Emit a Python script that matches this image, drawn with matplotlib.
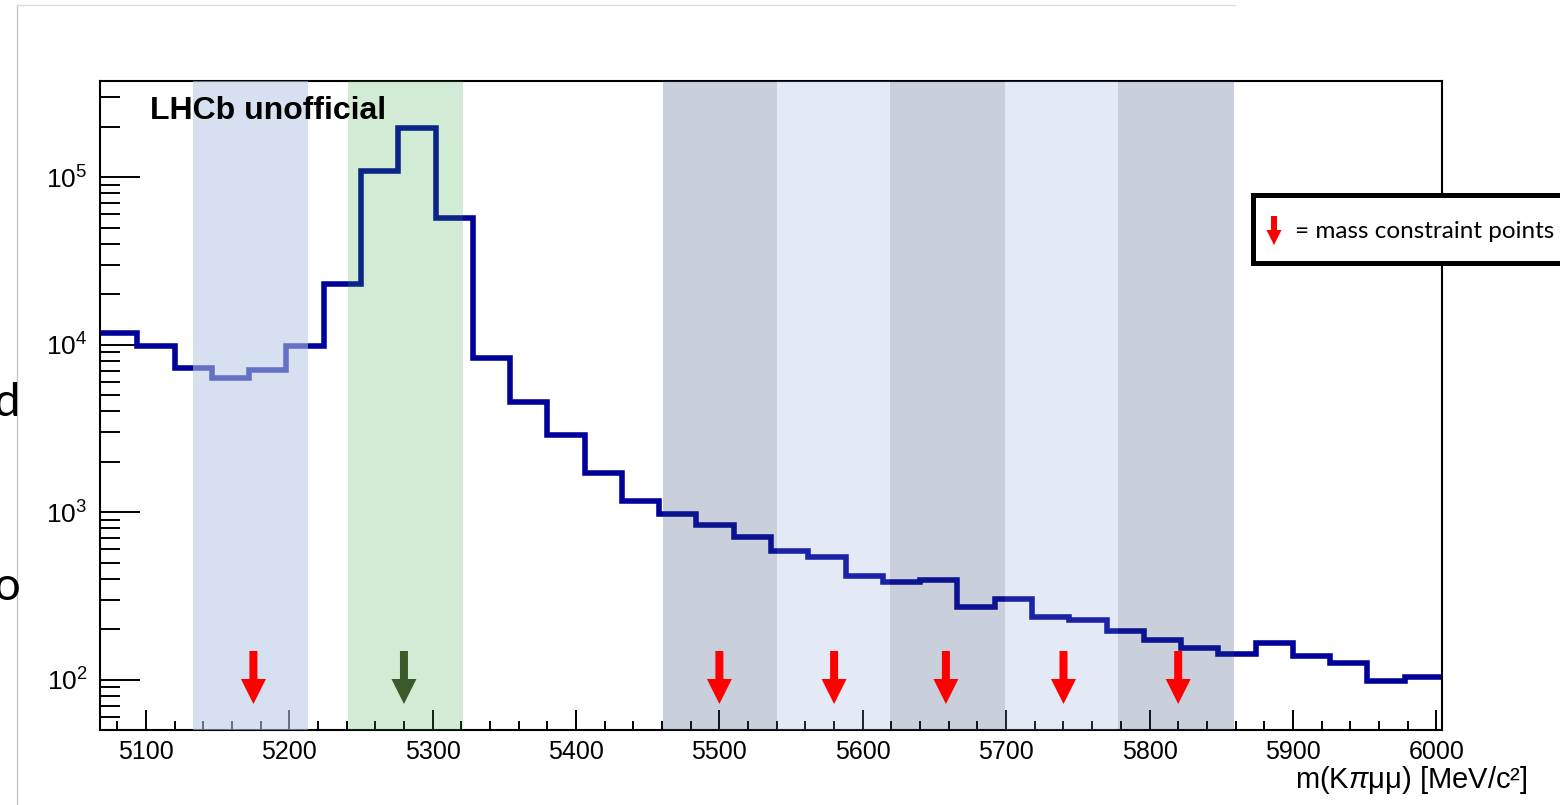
import numpy as np
import matplotlib
matplotlib.use("Agg")
import matplotlib.pyplot as plt
from matplotlib.patches import Polygon, Rectangle
from matplotlib.lines import Line2D
from matplotlib.ticker import LogLocator, MultipleLocator, NullFormatter, LogFormatterSciNotation
from matplotlib import transforms

plt.rcParams['font.family'] = ['Liberation Sans', 'DejaVu Sans']
plt.rcParams['mathtext.fontset'] = 'custom'
plt.rcParams['mathtext.rm'] = 'Liberation Sans'
plt.rcParams['mathtext.it'] = 'Liberation Sans:italic'

# histogram: 36 bins of 26 MeV
bin_edges = np.arange(5068, 6005, 26)
counts = [11800, 9820, 7260, 6330, 7100, 9820, 23000, 109000, 197000, 56800,
          8320, 4540, 2870, 1710, 1160, 978, 832, 708, 584, 538,
          414, 382, 391, 270, 303, 236, 228, 194, 173, 155,
          142, 166, 139, 126, 98.6, 103]

# shaded windows (low, high, kind)
bands = [(5133, 5213, 'side'), (5241, 5321, 'signal'),
         (5461, 5540, 'dark'), (5540, 5619, 'light'), (5619, 5699, 'dark'),
         (5699, 5778, 'light'), (5778, 5859, 'dark')]
band_style = {'side': ('#b6c8e6', 0.56),
              'signal': ('#32a844', 0.22),
              'dark': ('#2f4a78', 0.26),
              'light': ('#849fd6', 0.22)}

red_points = [5175, 5500, 5580, 5658, 5740, 5820]
green_points = [5280]

W, H = 1560, 805


def arrow(tip_y, half_shaft, half_head, head_len, length, trans, color):
    # coordinates in pixels relative to the tip, converted to inches
    pts = np.array([(0, 0), (half_head, head_len), (half_shaft, head_len),
                    (half_shaft, length), (-half_shaft, length),
                    (-half_shaft, head_len), (-half_head, head_len)], float)
    pts[:, 1] += tip_y
    pts /= 100.0
    return Polygon(pts, closed=True, facecolor=color, edgecolor='none',
                   transform=trans, zorder=6, clip_on=False)


def main():
    fig = plt.figure(figsize=(W / 100, H / 100), dpi=100)
    ax = fig.add_axes([100 / W, 1 - 730 / H, 1342 / W, 649 / H])

    ax.stairs(counts, bin_edges, baseline=None, color='#00009a', linewidth=4.0, zorder=2)

    for lo, hi, kind in bands:
        c, a = band_style[kind]
        ax.axvspan(lo, hi, color=c, alpha=a, lw=0, zorder=4)

    ax.set_yscale('log')
    ax.set_xlim(5068, 6004)
    ax.set_ylim(50, 3.75e5)

    ax.xaxis.set_major_locator(MultipleLocator(100))
    ax.xaxis.set_minor_locator(MultipleLocator(20))
    ax.yaxis.set_major_locator(LogLocator(base=10, numticks=10))
    ax.yaxis.set_minor_locator(LogLocator(base=10, subs=np.arange(2, 10), numticks=20))
    ax.yaxis.set_major_formatter(LogFormatterSciNotation())
    ax.yaxis.set_minor_formatter(NullFormatter())

    ax.tick_params(axis='x', which='major', direction='in', length=14.4, width=1.4,
                   labelsize=18, pad=7)
    ax.tick_params(axis='x', which='minor', direction='in', length=6.5, width=1.4)
    ax.tick_params(axis='y', which='major', direction='in', length=28.8, width=1.4,
                   labelsize=19, pad=9)
    ax.tick_params(axis='y', which='minor', direction='in', length=14.4, width=1.4)
    for s in ax.spines.values():
        s.set_linewidth(1.5)

    # constraint arrows
    xa = ax.get_xaxis_transform()
    for x in red_points:
        t = fig.dpi_scale_trans + transforms.ScaledTranslation(x, 0, xa)
        ax.add_patch(arrow(26, 4, 12.5, 25, 53, t, '#ff0000'))
    for x in green_points:
        t = fig.dpi_scale_trans + transforms.ScaledTranslation(x, 0, xa)
        ax.add_patch(arrow(26, 4, 12.5, 25, 53, t, '#3b5a2a'))

    fig.text(150 / W, 1 - 111 / H, 'LHCb unofficial', fontsize=23, fontweight='bold',
             ha='left', va='center', zorder=7)

    fig.text(1528 / W, 1 - 780 / H, r'm(K$\pi$μμ) [MeV/c²]', fontsize=21,
             ha='right', va='center')

    # legend box
    fig.patches.append(Rectangle((1252.5 / W, 1 - 263.5 / H), 400 / W, 68 / H,
                                 transform=fig.transFigure, facecolor='white',
                                 edgecolor='black', linewidth=3.6, zorder=8))
    t = fig.dpi_scale_trans + transforms.ScaledTranslation(1274 / W, 1 - 245 / H, fig.transFigure)
    leg_arrow = arrow(0, 3, 7.5, 15, 29, t, '#ff0000')
    leg_arrow.set_zorder(9)
    fig.patches.append(leg_arrow)
    fig.text(1295 / W, 1 - 231 / H, '= mass constraint points', fontsize=17.5,
             family=['Lato', 'DejaVu Sans'], ha='left', va='center', zorder=9)

    # leftovers from the slide around the plot
    fig.add_artist(Line2D([17 / W, 17 / W], [0, 1 - 5 / H], transform=fig.transFigure,
                          color='#c8c8c8', lw=1))
    fig.add_artist(Line2D([17 / W, 1235 / W], [1 - 5 / H, 1 - 5 / H], transform=fig.transFigure,
                          color='#dcdcdc', lw=1))
    fig.text(21 / W, 1 - 403 / H, 'd', fontsize=34, family=['Lato', 'DejaVu Sans'],
             ha='right', va='center')
    fig.text(21 / W, 1 - 587 / H, 'o', fontsize=34, family=['Lato', 'DejaVu Sans'],
             ha='right', va='center')

    fig.savefig('out.png', dpi=100)


if __name__ == '__main__':
    main()
